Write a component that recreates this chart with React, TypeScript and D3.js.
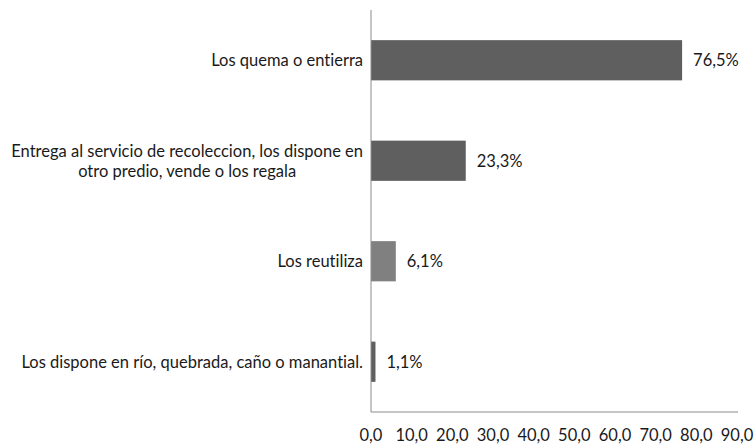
import { useEffect, useRef } from "react";
import * as d3 from "d3";

const categories = [
  ["Los quema o entierra"],
  ["Entrega al servicio de recoleccion, los dispone en", "otro predio, vende o los regala"],
  ["Los reutiliza"],
  ["Los dispone en río, quebrada, caño o manantial."],
];
const values = [76.5, 23.3, 6.1, 1.1];
const barColors = ["#5f5f5f", "#5f5f5f", "#808080", "#5f5f5f"];
const ticks = [0, 10, 20, 30, 40, 50, 60, 70, 80, 90];

const fmt = (v: number) => v.toFixed(1).replace(".", ",");

export default function App() {
  const ref = useRef<SVGSVGElement | null>(null);

  useEffect(() => {
    if (!ref.current) return;
    const svg = d3.select(ref.current);
    svg.selectAll("*").remove();

    const width = 756, height = 444;
    const left = 371, right = 737, top = 10, bottom = 412;
    const font = "Lato, sans-serif";
    const fs = 16.5;
    const ink = "#1a1a1a";

    const x = d3.scaleLinear().domain([0, 90]).range([left, right]);
    const y = d3.scaleBand<number>()
      .domain(values.map((_, i) => i))
      .range([top, bottom])
      .paddingInner(0.6)
      .paddingOuter(0.3);

    svg.attr("width", width).attr("height", height)
      .style("font-variant-ligatures", "none");

    // bars
    svg.append("g")
      .selectAll("rect")
      .data(values)
      .join("rect")
      .attr("x", x(0))
      .attr("y", (_, i) => y(i)!)
      .attr("width", d => x(d) - x(0))
      .attr("height", y.bandwidth())
      .attr("fill", (_, i) => barColors[i]);

    // value labels
    svg.append("g")
      .selectAll("text")
      .data(values)
      .join("text")
      .attr("x", d => x(d) + 11)
      .attr("y", (_, i) => y(i)! + y.bandwidth() / 2)
      .attr("dy", "0.35em")
      .attr("font-family", font)
      .attr("font-size", fs)
      .attr("fill", ink)
      .text(d => fmt(d) + "%");

    // axes lines
    svg.append("line")
      .attr("x1", left).attr("x2", left).attr("y1", top).attr("y2", bottom)
      .attr("stroke", "#8c8c8c").attr("stroke-width", 1);
    svg.append("line")
      .attr("x1", left).attr("x2", right + 1).attr("y1", bottom).attr("y2", bottom)
      .attr("stroke", "#8c8c8c").attr("stroke-width", 1);

    // tick labels
    svg.append("g")
      .selectAll("text")
      .data(ticks)
      .join("text")
      .attr("x", d => x(d))
      .attr("y", 441)
      .attr("text-anchor", "middle")
      .attr("font-family", font)
      .attr("font-size", fs)
      .attr("fill", ink)
      .text(d => fmt(d));

    // category labels, wrapped lines centred on each other, block right-aligned
    const labelRight = 363;
    const lineH = 20;
    categories.forEach((lines, i) => {
      const cy = y(i)! + y.bandwidth() / 2;
      const g = svg.append("g");
      const texts = lines.map((ln, j) =>
        g.append("text")
          .attr("y", cy + (j - (lines.length - 1) / 2) * lineH)
          .attr("dy", "0.35em")
          .attr("font-family", font)
          .attr("font-size", fs)
          .attr("fill", ink)
          .text(ln)
      );
      const widths = texts.map(t => (t.node() as SVGTextElement).getComputedTextLength());
      const maxW = d3.max(widths) || 0;
      const cx = labelRight - maxW / 2;
      texts.forEach(t => t.attr("x", cx).attr("text-anchor", "middle"));
    });
  }, []);

  return <svg ref={ref} style={{ position: "absolute", left: 0, top: 0 }} />;
}
